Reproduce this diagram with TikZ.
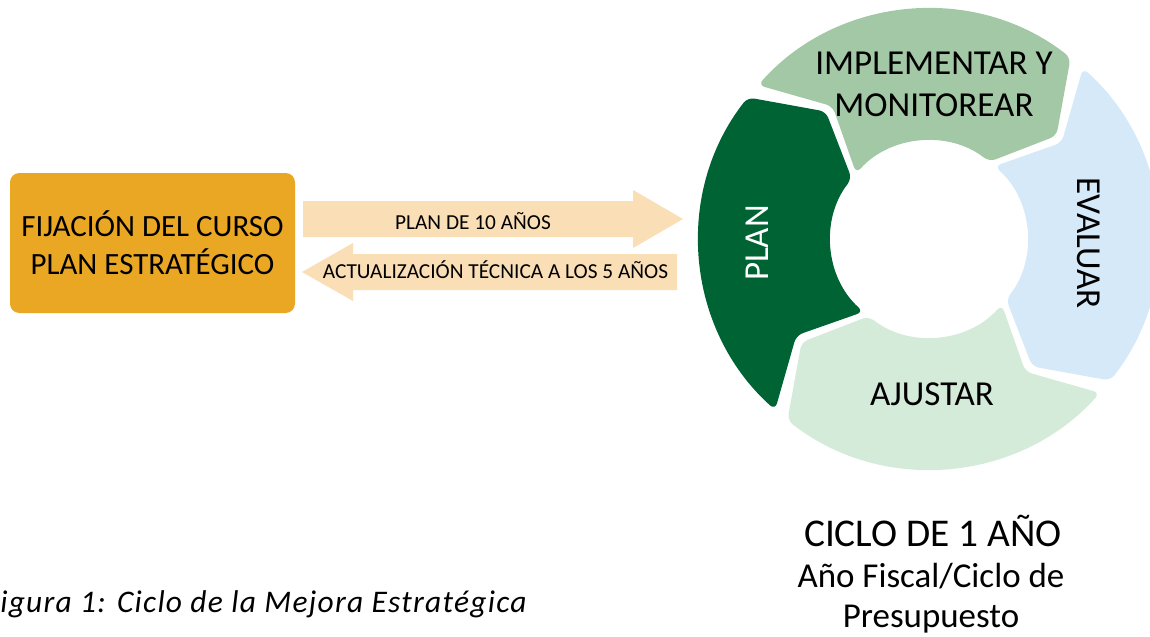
\documentclass[tikz,border=0pt]{standalone}
\usepackage{fontspec}
\setmainfont{Carlito}
\newfontfamily\captionfont[LetterSpace=4]{Carlito}
\usetikzlibrary{positioning}

\definecolor{boxorange}{RGB}{234,167,35}
\definecolor{arrowpeach}{RGB}{249,222,182}
\definecolor{plangreen}{RGB}{0,99,52}
\definecolor{implgreen}{RGB}{163,200,166}
\definecolor{evalblue}{RGB}{214,233,248}
\definecolor{ajustgreen}{RGB}{213,235,218}

\tikzset{
  stagelabel/.style={font=\fontsize{26.3}{31.5}\selectfont, inner sep=0pt, align=center},
  arrowlabel/.style={font=\fontsize{16}{19}\selectfont, inner sep=0pt, anchor=base},
  blockarrow/.style={fill=arrowpeach},
  stage/.style={rounded corners=5pt},
}

\begin{document}
\begin{tikzpicture}[x=0.75pt,y=0.75pt,yscale=-1,xscale=1]
\useasboundingbox (0,0) rectangle (1150,636);
\clip (0,0) rectangle (1150,636);

% Course box
\node[fill=boxorange, rounded corners=7pt, minimum width=213.75pt, minimum height=105pt,
  align=center, font=\fontsize{23.2}{28.5}\selectfont] (fijacion) at (152.5,243)
  {FIJACIÓN DEL CURSO\\PLAN ESTRATÉGICO};

% Block arrows
\coordinate (plan10) at (303,219);
\coordinate (tecnica) at (677,272);
\fill[blockarrow] (plan10) ++(0,-18) -- ++(330,0) -- ++(0,-11) -- (683,219)
  -- (633,248) -- ++(0,-11) -- ++(-330,0) -- cycle;
\fill[blockarrow] (tecnica) ++(0,-18) -- ++(-324,0) -- ++(0,-11) -- (302,272)
  -- (353,301) -- ++(0,-11) -- ++(324,0) -- cycle;

% Text Node
\node[arrowlabel] (plan10label) at (473,229) {PLAN DE 10 AÑOS};
% Text Node
\node[arrowlabel] (tecnicalabel) at (495.5,278) {ACTUALIZACIÓN TÉCNICA A LOS 5 AÑOS};

% Cycle
\begin{scope}[shift={(929,239)}, yscale=-1]
\foreach \t/\c in {228/plangreen, 138/implgreen, 48/evalblue, -42/ajustgreen}
  \fill[\c, stage] (\t:230) arc[start angle=\t, end angle=\t-86, radius=230]
    -- ({\t-99}:164) -- ({\t-86}:98) arc[start angle=\t-86, end angle=\t, radius=98]
    -- ({\t-12}:164) -- cycle;
\end{scope}

% Stage labels
\node[stagelabel, text=white, rotate=90] (plan) at (757,243) {PLAN};
\node[stagelabel] (implementar) at (934,84) {IMPLEMENTAR Y\\MONITOREAR};
\node[stagelabel, rotate=-90] (evaluar) at (1089,243) {EVALUAR};
\node[stagelabel] (ajustar) at (932,394) {AJUSTAR};

% Cycle caption
\node[anchor=base, inner sep=0pt, font=\fontsize{29.5}{34}\selectfont] (ciclo) at (933,546)
  {CICLO DE 1 AÑO};
\node[anchor=base, inner sep=0pt, align=center, font=\fontsize{26.2}{29.3}\selectfont]
  (fiscal) at (931,627) {Año Fiscal/Ciclo de\\Presupuesto};

% Figure caption
\node[anchor=base east, inner sep=0pt, font=\captionfont\itshape\fontsize{23.6}{28}\selectfont]
  (figura) at (527,612) {Figura 1: Ciclo de la Mejora Estratégica};

\end{tikzpicture}
\end{document}
